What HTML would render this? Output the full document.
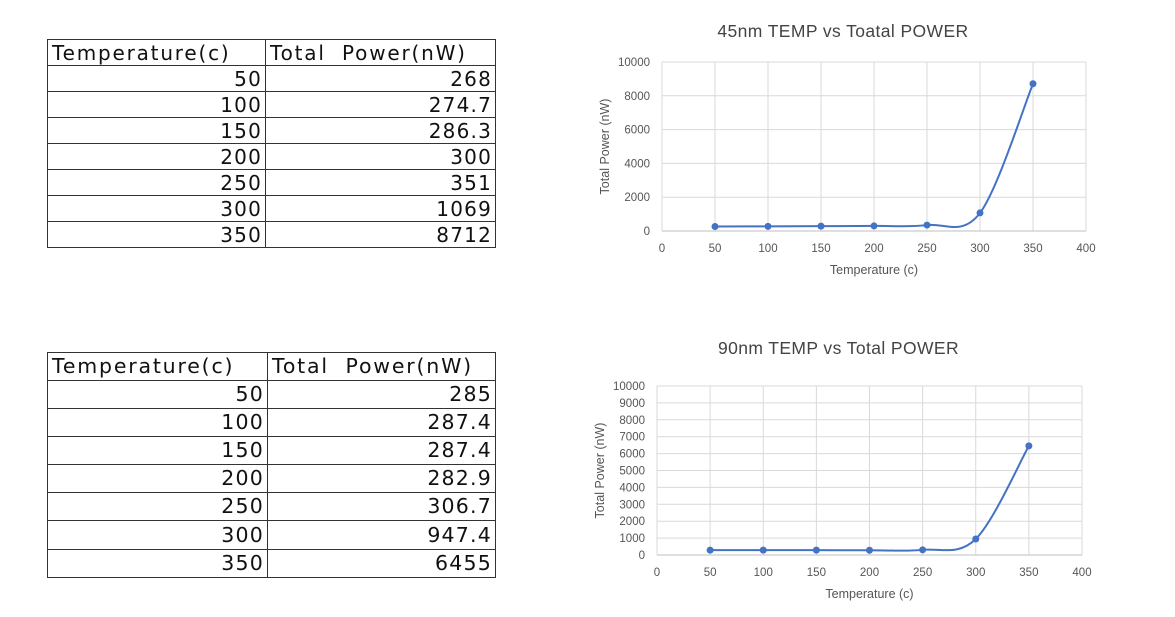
<!DOCTYPE html>
<html><head><meta charset="utf-8"><style>
body{margin:0;width:1175px;height:617px;background:#fff;overflow:hidden;position:relative;font-family:"DejaVu Sans","Liberation Sans",sans-serif}
table{position:absolute;border-collapse:collapse;font-size:20px;color:#111;letter-spacing:1.2px}
td{border:1px solid #333;padding:0 3px 0 4px;text-align:right;line-height:1}
tr:first-child td{text-align:left;letter-spacing:1.8px}
svg{position:absolute;left:0;top:0}
</style></head><body>
<table id="t1" style="left:47px;top:39px;width:449px">
<tr style="height:26px"><td style="width:210px">Temperature(c)</td><td>Total&nbsp; Power(nW)</td></tr>
<tr style="height:26px"><td>50</td><td>268</td></tr><tr style="height:26px"><td>100</td><td>274.7</td></tr><tr style="height:26px"><td>150</td><td>286.3</td></tr><tr style="height:26px"><td>200</td><td>300</td></tr><tr style="height:26px"><td>250</td><td>351</td></tr><tr style="height:26px"><td>300</td><td>1069</td></tr><tr style="height:26px"><td>350</td><td>8712</td></tr>
</table>
<table id="t2" style="left:47px;top:352px;width:449px;font-size:20.5px">
<tr style="height:28px"><td style="width:212px">Temperature(c)</td><td>Total&nbsp; Power(nW)</td></tr>
<tr style="height:28px"><td>50</td><td>285</td></tr><tr style="height:28px"><td>100</td><td>287.4</td></tr><tr style="height:28px"><td>150</td><td>287.4</td></tr><tr style="height:28px"><td>200</td><td>282.9</td></tr><tr style="height:28px"><td>250</td><td>306.7</td></tr><tr style="height:29px"><td>300</td><td>947.4</td></tr><tr style="height:28px"><td>350</td><td>6455</td></tr>
</table>
<svg id="s" width="1175" height="617" font-family="Liberation Sans, sans-serif"></svg>
<script>
const temps=[50,100,150,200,250,300,350];
const power45=[268,274.7,286.3,300,351,1069,8712];
const power90=[285,287.4,287.4,282.9,306.7,947.4,6455];
const xTicks=[0,50,100,150,200,250,300,350,400];
const yTicks1=[0,2000,4000,6000,8000,10000];
const yTicks2=[0,1000,2000,3000,4000,5000,6000,7000,8000,9000,10000];
const svg=document.getElementById('s');
const NS='http://www.w3.org/2000/svg';
function mk(t,a,txt){const e=document.createElementNS(NS,t);for(const k in a)e.setAttribute(k,a[k]);if(txt!=null)e.textContent=txt;svg.appendChild(e);return e;}
function chart(id,L,R,T,B,vals,yt,title,titleY){
  const xs=v=>L+(v-0)/400*(R-L), ys=v=>B-v/10000*(B-T);
  let e=mk('text',{x:(L+R)/2-31,y:titleY,'font-size':17.5,fill:'#444','text-anchor':'middle','letter-spacing':0.4},title);
  
  
  yt.forEach(v=>{mk('line',{x1:L,x2:R,y1:ys(v),y2:ys(v),stroke:'#d9d9d9'});
    e=mk('text',{x:L-12,y:ys(v)+4,'font-size':11.5,fill:'#555','text-anchor':'end'},v);
    
    });
  xTicks.forEach(v=>{mk('line',{x1:xs(v),x2:xs(v),y1:T,y2:B,stroke:'#d9d9d9'});
    e=mk('text',{x:xs(v),y:B+21,'font-size':11.5,fill:'#555','text-anchor':'middle'},v);
    
    });
  mk('line',{x1:L,x2:R,y1:B,y2:B,stroke:'#bfbfbf'});
  e=mk('text',{x:(L+R)/2,y:B+43,'font-size':12.5,fill:'#555','text-anchor':'middle'},'Temperature (c)');
  
  
  const yl=(T+B)/2;
  e=mk('text',{x:L-53,y:yl,'font-size':12.5,fill:'#555','text-anchor':'middle',transform:`rotate(-90 ${L-53} ${yl})`},'Total  Power (nW)');
  
  
  const p=temps.map((t,i)=>[xs(t),ys(vals[i])]);
  let d=`M${p[0][0]},${p[0][1]}`;const k=1/6;
  for(let i=0;i<p.length-1;i++){const p0=p[i-1]||p[i],p1=p[i],p2=p[i+1],p3=p[i+2]||p[i+1];
    d+=` C${p1[0]+(p2[0]-p0[0])*k},${p1[1]+(p2[1]-p0[1])*k} ${p2[0]-(p3[0]-p1[0])*k},${p2[1]-(p3[1]-p1[1])*k} ${p2[0]},${p2[1]}`;}
  e=mk('path',{d:d,fill:'none',stroke:'#4472c4','stroke-width':2});
  
  
  p.forEach(q=>{e=mk('circle',{cx:q[0],cy:q[1],r:3.5,fill:'#4472c4'});
    
    });
}
chart('chart-45nm',662,1086,62,231,power45,yTicks1,'45nm TEMP vs  Toatal POWER',37);
chart('chart-90nm',657,1082,386,555,power90,yTicks2,'90nm TEMP vs Total POWER',354);
</script>
</body></html>
